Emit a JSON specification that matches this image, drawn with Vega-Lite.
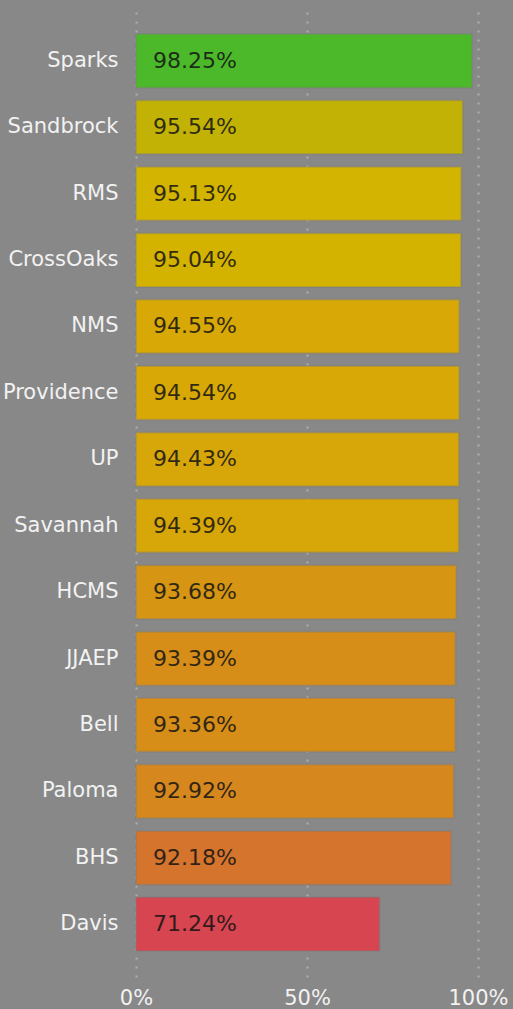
{
  "$schema": "https://vega.github.io/schema/vega-lite/v6.json",
  "autosize": "none",
  "padding": {"left": 136, "top": 8, "right": 35, "bottom": 32},
  "width": 342,
  "height": 969,
  "background": "#888888",
  "config": {"view": {"stroke": null}, "font": "DejaVu Sans"},
  "data": {"values": [
    {"school": "Sparks", "rate": 0.9825, "label": "98.25%", "color": "#4cb92a"},
    {"school": "Sandbrock", "rate": 0.9554, "label": "95.54%", "color": "#c1b205"},
    {"school": "RMS", "rate": 0.9513, "label": "95.13%", "color": "#d3b400"},
    {"school": "CrossOaks", "rate": 0.9504, "label": "95.04%", "color": "#d4b300"},
    {"school": "NMS", "rate": 0.9455, "label": "94.55%", "color": "#d7a806"},
    {"school": "Providence", "rate": 0.9454, "label": "94.54%", "color": "#d7a806"},
    {"school": "UP", "rate": 0.9443, "label": "94.43%", "color": "#d7a608"},
    {"school": "Savannah", "rate": 0.9439, "label": "94.39%", "color": "#d7a608"},
    {"school": "HCMS", "rate": 0.9368, "label": "93.68%", "color": "#d69512"},
    {"school": "JJAEP", "rate": 0.9339, "label": "93.39%", "color": "#d68e18"},
    {"school": "Bell", "rate": 0.9336, "label": "93.36%", "color": "#d68e18"},
    {"school": "Paloma", "rate": 0.9292, "label": "92.92%", "color": "#d6881e"},
    {"school": "BHS", "rate": 0.9218, "label": "92.18%", "color": "#d5742c"},
    {"school": "Davis", "rate": 0.7124, "label": "71.24%", "color": "#d64550"}
  ]},
  "encoding": {
    "y": {
      "field": "school", "type": "nominal", "sort": null,
      "scale": {"paddingInner": 0.19, "paddingOuter": 0.39},
      "axis": {"title": null, "domain": false, "ticks": false, "labelColor": "#f2f2f2", "labelFontSize": 21, "labelPadding": 18, "labelFont": "DejaVu Sans"}
    }
  },
  "layer": [
    {
      "mark": {"type": "bar", "stroke": "#7a7a7a", "strokeOpacity": 0.35, "strokeWidth": 2},
      "encoding": {
        "x": {
          "field": "rate", "type": "quantitative",
          "scale": {"domain": [0, 1], "nice": false},
          "axis": {"title": null, "values": [0, 0.5, 1], "format": "%", "domain": false, "ticks": false,
                   "grid": true, "gridColor": "#b0b0b0", "gridDash": [2, 7], "gridWidth": 2,
                   "labelFlush": false,
                   "labelColor": "#f2f2f2", "labelFontSize": 21, "labelPadding": 10, "labelFont": "DejaVu Sans"}
        },
        "color": {"field": "color", "type": "nominal", "scale": null, "legend": null}
      }
    },
    {
      "mark": {"type": "text", "align": "left", "baseline": "middle", "dx": 17, "fontSize": 22, "color": "#141414", "opacity": 0.85, "font": "DejaVu Sans"},
      "encoding": {
        "x": {"datum": 0, "type": "quantitative"},
        "text": {"field": "label"}
      }
    }
  ]
}
